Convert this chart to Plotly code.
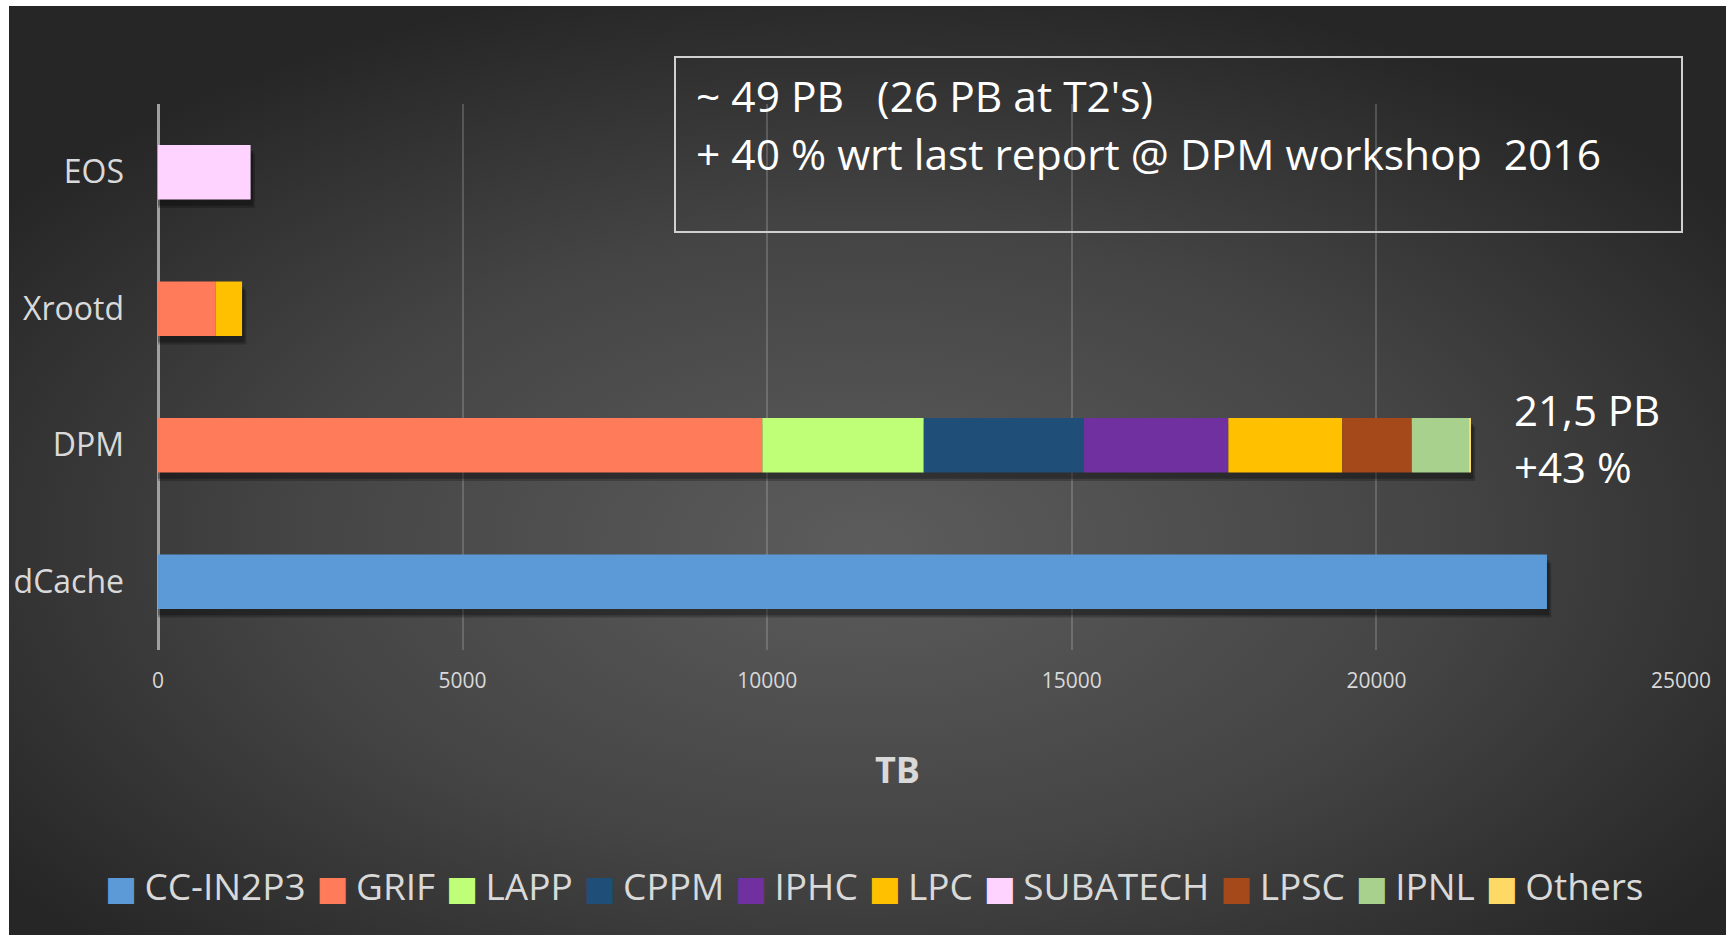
import base64
import numpy as np
import plotly.graph_objects as go

categories = ["dCache", "DPM", "Xrootd", "EOS"]
sites = ["CC-IN2P3", "GRIF", "LAPP", "CPPM", "IPHC", "LPC", "SUBATECH", "LPSC", "IPNL", "Others"]
cc_in2p3 = [22800, 0, 0, 0]
grif = [0, 9920, 950, 0]
lapp = [0, 2650, 0, 0]
cppm = [0, 2630, 0, 0]
iphc = [0, 2370, 0, 0]
lpc = [0, 1870, 430, 0]
subatech = [0, 0, 0, 1520]
lpsc = [0, 1140, 0, 0]
ipnl = [0, 940, 0, 0]
others = [0, 30, 0, 0]
series = [cc_in2p3, grif, lapp, cppm, iphc, lpc, subatech, lpsc, ipnl, others]
colors = ["#5B9AD7", "#FF7B5A", "#BFFF78", "#1F4E79", "#7030A0", "#FFC000",
          "#FFD3FF", "#A5481A", "#A9D18E", "#FFD966"]
x_ticks = [0, 5000, 10000, 15000, 20000, 25000]

FONT = "Open Sans"
TXT = "#d9d9d9"

# figure geometry (pixels)
W, H = 1730, 935
L, R, T, B = 158, 49, 104, 285
PW, PH = W - L - R, H - T - B

def px(x):
    return (x - L) / PW

def py(y):
    return (H - B - y) / PH

fig = go.Figure()

vals = np.array(series, dtype=float)
totals = vals.sum(axis=0)
bases = np.vstack([np.zeros(len(categories)), np.cumsum(vals, axis=0)[:-1]])

# soft drop shadow under bars
fig.add_trace(go.Bar(y=categories, x=totals + 70, base=0, orientation="h",
                     width=0.4, offset=-0.262, marker=dict(color="rgba(0,0,0,0.22)", line_width=0),
                     showlegend=False, hoverinfo="skip"))
fig.add_trace(go.Bar(y=categories, x=totals + 40, base=0, orientation="h",
                     width=0.4, offset=-0.245, marker=dict(color="rgba(0,0,0,0.28)", line_width=0),
                     showlegend=False, hoverinfo="skip"))

for name, v, b, c in zip(sites, vals, bases, colors):
    fig.add_trace(go.Bar(y=categories, x=v, base=b, orientation="h", name=name,
                         width=0.4, marker=dict(color=c, line_width=0),
                         showlegend=False))

svg = ("<svg xmlns='http://www.w3.org/2000/svg' viewBox='0 0 100 100' preserveAspectRatio='none'>"
       "<defs><radialGradient id='g' cx='0.5' cy='0.58' r='0.62'>"
       "<stop offset='0' stop-color='#5c5c5c'/><stop offset='0.55' stop-color='#444444'/>"
       "<stop offset='1' stop-color='#262626'/></radialGradient></defs>"
       "<rect x='0' y='0' width='100' height='100' fill='url(#g)'/></svg>")
src = "data:image/svg+xml;base64," + base64.b64encode(svg.encode()).decode()

fig.add_layout_image(dict(source=src, xref="paper", yref="paper",
                          x=px(9), y=py(6), sizex=px(1726) - px(9), sizey=py(6) - py(935),
                          xanchor="left", yanchor="top", sizing="stretch", layer="below"))

fig.add_shape(type="rect", xref="paper", yref="paper",
              x0=px(675), x1=px(1682), y0=py(232), y1=py(57),
              line=dict(color="#d0d0d0", width=2), fillcolor="rgba(0,0,0,0)")

ann = [
    ("~ 49 PB\u00a0\u00a0\u00a0(26 PB at T2's)", px(694), py(95), 42.5, "#ffffff"),
    ("+ 40 % wrt last report @ DPM workshop\u00a0\u00a02016", px(694), py(153), 42.5, "#ffffff"),
    ("21,5 PB", px(1512), py(409), 42, "#ffffff"),
    ("+43 %", px(1512), py(466), 42, "#ffffff"),
]
for text, x, y, s, col in ann:
    fig.add_annotation(text=text, x=x, y=y, xref="paper", yref="paper",
                       xanchor="left", yanchor="middle", showarrow=False,
                       font=dict(family=FONT, size=s, color=col))

fig.add_annotation(text="<b>TB</b>", x=px(897), y=py(769), xref="paper", yref="paper",
                   xanchor="center", yanchor="middle", showarrow=False,
                   font=dict(family=FONT, size=36, color=TXT))

# legend: coloured squares + site names in one centred line
legend_parts = []
for name, c in zip(sites, colors):
    legend_parts.append(
        f"<span style='font-family:DejaVu Sans;font-size:34px;fill:{c};color:{c}'>\u25a0</span>"
        f"<span style='font-size:28px'>\u00a0</span>{name}")
sep = "<span style='font-size:21px'>\u00a0\u00a0</span>"
legend_text = sep.join(legend_parts)
fig.add_annotation(text=legend_text, x=px(874), y=py(885), xref="paper", yref="paper",
                   xanchor="center", yanchor="middle", showarrow=False,
                   font=dict(family=FONT, size=37, color=TXT))

fig.update_layout(
    width=W, height=H,
    margin=dict(l=L, r=R, t=T, b=B, pad=0),
    paper_bgcolor="#ffffff", plot_bgcolor="rgba(0,0,0,0)",
    barmode="overlay", showlegend=False,
    font=dict(family=FONT, color=TXT),
    xaxis=dict(range=[0, 25000], tickvals=x_ticks, ticktext=[str(t) for t in x_ticks],
               showgrid=True, gridcolor="rgba(217,217,217,0.22)", gridwidth=1.5,
               zeroline=True, zerolinecolor="#a0a0a0", zerolinewidth=2.5,
               showline=False, ticks="", ticklabelstandoff=16,
               tickfont=dict(family=FONT, size=21, color=TXT), fixedrange=True),
    yaxis=dict(type="category", categoryorder="array", categoryarray=categories,
               range=[-0.5, 3.5], showgrid=False, zeroline=False, showline=False,
               ticks="", ticklabelstandoff=33,
               tickfont=dict(family=FONT, size=32, color=TXT), fixedrange=True),
)

fig.write_html("out.html", config={"displayModeBar": False},
               post_script="document.body.style.margin='0px';"
                           "document.documentElement.style.overflow='hidden';")
